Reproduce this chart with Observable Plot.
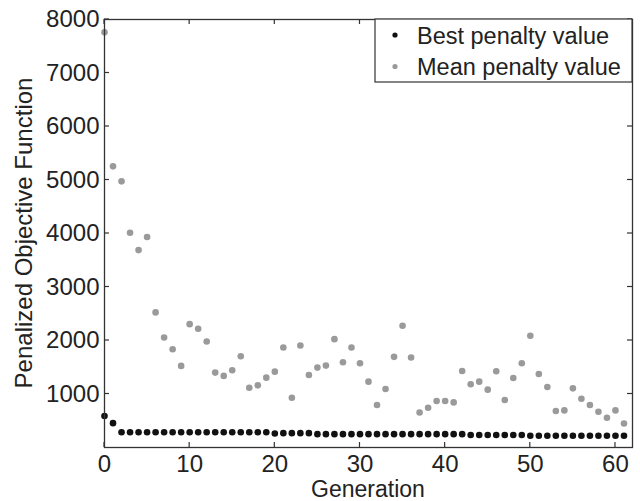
<!DOCTYPE html>
<html>
<head>
<meta charset="utf-8">
<script src="https://cdn.jsdelivr.net/npm/d3@7"></script>
<script src="https://cdn.jsdelivr.net/npm/@observablehq/plot@0.6"></script>
<style>
  html, body { margin: 0; padding: 0; background: #fff; }
  #chart { position: relative; width: 640px; height: 501px; }
</style>
</head>
<body>
<div id="chart"></div>
<script>
const generations = d3.range(62);
const meanPenalty = [7760, 5255, 4975, 4015, 3690, 3935, 2525, 2056, 1837, 1525,
  2306, 2219, 1981, 1400, 1338, 1443, 1706, 1118, 1162, 1306,
  1418, 1869, 931, 1906, 1356, 1493, 1531, 2025, 1594, 1869,
  1575, 1231, 794, 1094, 1694, 2276, 1681, 655, 743, 869,
  869, 843, 1431, 1181, 1231, 1081, 1425, 887, 1300, 1575,
  2088, 1375, 1131, 681, 693, 1106, 912, 794, 668, 556,
  693, 449];
const bestPenalty = [590, 455, 285, 285, 285, 285, 285, 285, 285, 285,
  285, 285, 285, 285, 285, 285, 285, 285, 285, 285,
  262, 268, 268, 268, 268, 250, 250, 250, 250, 250,
  250, 250, 250, 250, 250, 250, 250, 250, 250, 250,
  250, 250, 250, 235, 235, 235, 235, 235, 235, 235,
  220, 220, 220, 220, 220, 220, 220, 220, 220, 220,
  220, 220];
const xTicks = [0, 10, 20, 30, 40, 50, 60];
const yTicks = [1000, 2000, 3000, 4000, 5000, 6000, 7000, 8000];
const legendLabels = ["Best penalty value", "Mean penalty value"];
const seriesColors = ["#111111", "#9a9a9a"];
const xLabel = "Generation";
const yLabel = "Penalized Objective Function";

const meanData = generations.map((g, i) => ({g, v: meanPenalty[i]}));
const bestData = generations.map((g, i) => ({g, v: bestPenalty[i]}));

const W = 640, H = 501;
const mL = 104, mR = 8, mT = 19, mB = 54;
const font = "'Liberation Sans', Arial, sans-serif";

const plot = Plot.plot({
  width: W, height: H,
  marginLeft: mL, marginRight: mR, marginTop: mT, marginBottom: mB,
  style: {fontFamily: font, fontSize: "24px", color: "#222", background: "#fff"},
  x: {domain: [0, 62]},
  y: {domain: [0, 8000]},
  marks: [
    Plot.dot(meanData, {x: "g", y: "v", r: 3.3, fill: seriesColors[1], stroke: "none"}),
    Plot.dot(bestData, {x: "g", y: "v", r: 3.3, fill: seriesColors[0], stroke: "none"}),
    Plot.axisX(xTicks, {anchor: "bottom", tickSize: 0, tickPadding: 7, label: null, fontSize: 24, fill: "#222", tickFormat: d3.format("d")}),
    Plot.axisY(yTicks, {anchor: "left", tickSize: 0, tickPadding: 5, label: null, fontSize: 24, fill: "#222", tickFormat: d3.format("d")}),
    Plot.frame({stroke: "#333", strokeWidth: 1.3})
  ]
});

document.getElementById("chart").appendChild(plot);

const sx = plot.scale("x"), sy = plot.scale("y");
const svg = d3.select(plot);
const pTop = mT, pBottom = H - mB, pLeft = mL, pRight = W - mR, tl = 5;
// inward ticks on all four sides, placed through Plot's scales
const tg = svg.append("g").attr("stroke", "#333").attr("stroke-width", 1.2);
xTicks.forEach(t => {
  const x = sx.apply(t);
  tg.append("line").attr("x1", x).attr("x2", x).attr("y1", pBottom).attr("y2", pBottom - tl);
  tg.append("line").attr("x1", x).attr("x2", x).attr("y1", pTop).attr("y2", pTop + tl);
});
yTicks.forEach(t => {
  const y = sy.apply(t);
  tg.append("line").attr("y1", y).attr("y2", y).attr("x1", pLeft).attr("x2", pLeft + tl);
  tg.append("line").attr("y1", y).attr("y2", y).attr("x1", pRight).attr("x2", pRight - tl);
});

// axis titles
svg.append("text")
  .attr("x", (pLeft + pRight) / 2).attr("y", 497)
  .attr("text-anchor", "middle")
  .attr("font-family", font).attr("font-size", 23).attr("fill", "#222")
  .text(xLabel);
svg.append("text")
  .attr("transform", `translate(32,${(pTop + pBottom) / 2}) rotate(-90)`)
  .attr("text-anchor", "middle")
  .attr("font-family", font).attr("font-size", 24).attr("fill", "#222")
  .text(yLabel);

// legend
const lg = svg.append("g");
lg.append("rect")
  .attr("x", 375).attr("y", pTop).attr("width", pRight - 375).attr("height", 82 - pTop)
  .attr("fill", "#fff").attr("stroke", "#333").attr("stroke-width", 1.2);
legendLabels.forEach((lab, i) => {
  lg.append("circle").attr("cx", 395).attr("cy", 35 + i * 31.5).attr("r", 2.6).attr("fill", seriesColors[i]);
  lg.append("text").attr("x", 417).attr("y", 43.5 + i * 31)
    .attr("text-anchor", "start")
    .attr("font-family", font).attr("font-size", 23.5).attr("fill", "#222")
    .text(lab);
});
</script>
</body>
</html>
